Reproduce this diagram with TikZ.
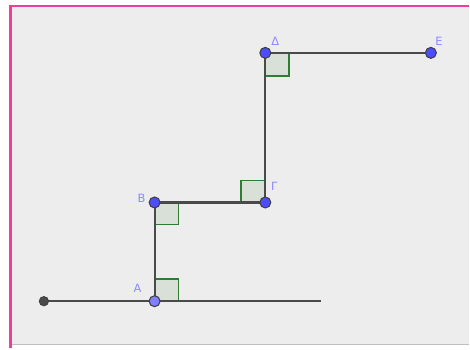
\documentclass[tikz,border=0pt]{standalone}
\usepackage{fontspec}
\setmainfont{DejaVu Sans}
\definecolor{bggray}{HTML}{EDEDED}
\definecolor{framepink}{HTML}{EA3F9C}
\definecolor{seggray}{HTML}{4A4A4A}
\definecolor{ptblue}{HTML}{4D4DFF}
\definecolor{ptlight}{HTML}{7F7FFF}
\definecolor{anggreen}{HTML}{2E7D32}
\definecolor{angfill}{HTML}{D8E0D8}
\definecolor{lblblue}{HTML}{8A8AFF}
\tikzstyle{point} = [circle, inner sep=0pt, minimum size=.22cm, draw=black!75, line width=.6pt, fill=ptblue]
\tikzstyle{endpt} = [circle, inner sep=0pt, minimum size=.19cm, draw=black!75, fill=seggray]
\tikzstyle{seg} = [draw=seggray, line width=1.2pt]
\tikzstyle{rangle} = [draw=anggreen, fill=angfill, line width=1pt]
\tikzstyle{lbl} = [text=lblblue, inner sep=0pt, font=\fontsize{6.5}{7}\selectfont]
\newcommand{\rt}[2]{\draw[rangle] (#1) rectangle ++#2;}

\begin{document}
\begin{tikzpicture}[x=.02cm, y=-.02cm]%
			\fill[white] (0,0) rectangle (470,349);%
			\fill[bggray] (11,7) rectangle (470,345);%
			\draw[black!25, line width=.5pt] (11,345.5) -- (470,345.5);%
			\draw[framepink, line width=1.4pt] (10.5,349) -- (10.5,6) -- (470,6);%
			% points of the staircase
			\coordinate (l) at (44,302);
			\coordinate (r) at (322,302);
			\coordinate (a) at (155,302);
			\coordinate (b) at (155,203);
			\coordinate (g) at (266,203);
			\coordinate (d) at (266,53);
			\coordinate (e) at (432,53);
			% right angles
			\rt{a}{(24,-22)}
			\rt{b}{(24,22)}
			\rt{g}{(-24,-22)}
			\rt{d}{(24,23)}
			% segments
			\draw[seg] (l) -- (r);
			\draw[seg] (a) -- (b) -- (g) -- (d) -- (e);
			\node[endpt] (L) at (l) {};
			\node[point, fill=ptlight] (A) at (a) {};
			\node[point] (B) at (b) {};
			\node[point] (G) at (g) {};
			\node[point] (D) at (d) {};
			\node[point] (E) at (e) {};
			\node[lbl] (la) at (138,289) {Α};
			\node[lbl] (lb) at (142,199) {Β};
			\node[lbl] (lg) at (275,187) {Γ};
			\node[lbl] (ld) at (276,41) {Δ};
			\node[lbl] (le) at (440,41) {Ε};
		\end{tikzpicture}
\end{document}
